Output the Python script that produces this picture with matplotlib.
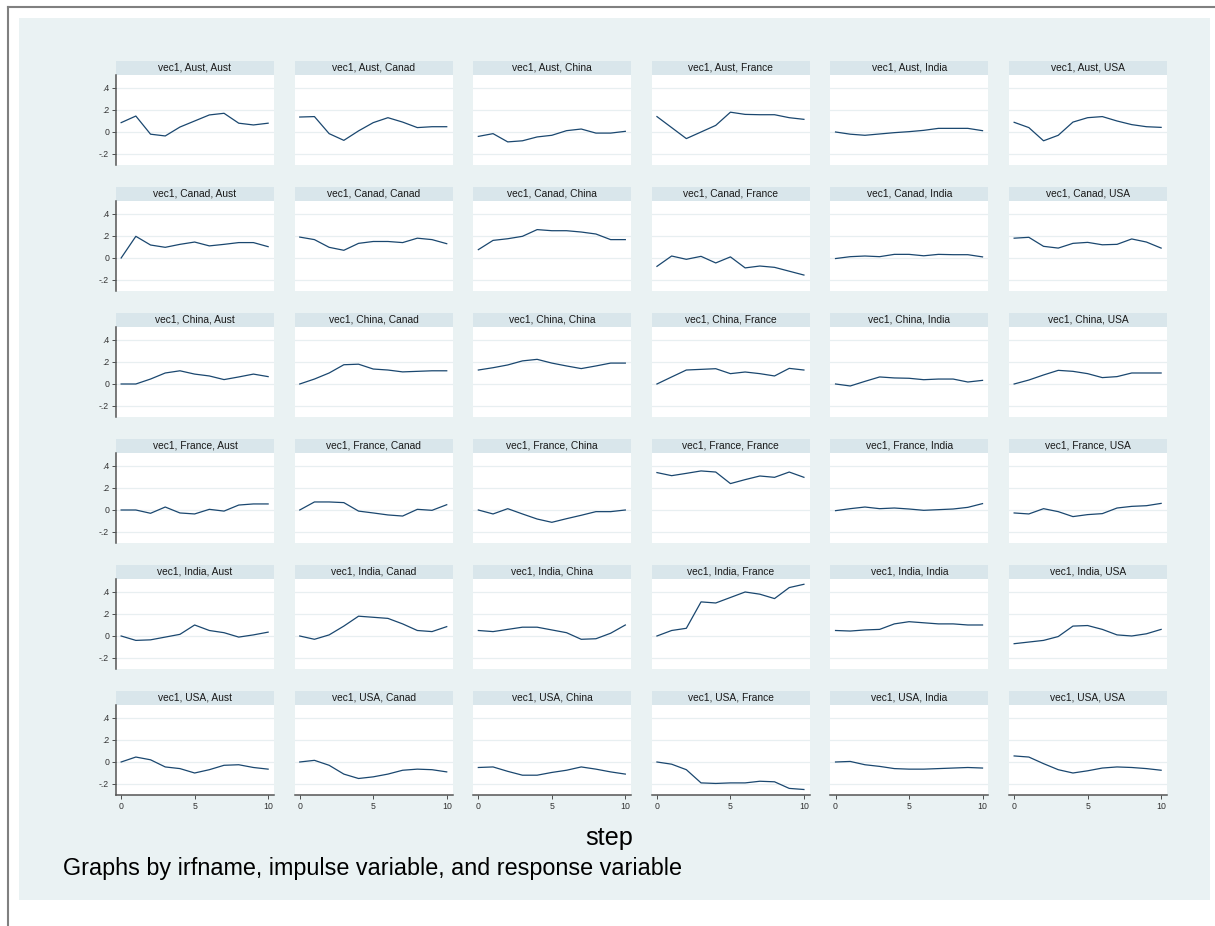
import numpy as np
import matplotlib.pyplot as plt
from matplotlib.patches import Rectangle
from matplotlib.lines import Line2D

plt.rcParams['font.family'] = ['Liberation Sans', 'DejaVu Sans']

countries = ['Aust', 'Canad', 'China', 'France', 'India', 'USA']
steps = np.arange(11)
yticks = [-0.2, 0, 0.2, 0.4]
yticklabels = ['-.2', '0', '.2', '.4']
xticks = [0, 5, 10]

# impulse = Aust, responses in order of countries
irf_aust = [
    [0.085, 0.145, -0.02, -0.036, 0.045, 0.10, 0.155, 0.17, 0.08, 0.064, 0.08],
    [0.136, 0.14, -0.015, -0.076, 0.01, 0.085, 0.13, 0.09, 0.04, 0.048, 0.048],
    [-0.04, -0.015, -0.09, -0.08, -0.045, -0.03, 0.012, 0.027, -0.01, -0.01, 0.006],
    [0.14, 0.04, -0.06, 0.0, 0.06, 0.18, 0.16, 0.157, 0.157, 0.13, 0.115],
    [0.0, -0.02, -0.03, -0.018, -0.006, 0.003, 0.015, 0.033, 0.033, 0.033, 0.012],
    [0.088, 0.04, -0.08, -0.03, 0.09, 0.13, 0.14, 0.10, 0.067, 0.048, 0.042],
]
irf_canad = [
    [0.0, 0.197, 0.118, 0.097, 0.124, 0.145, 0.11, 0.124, 0.14, 0.14, 0.103],
    [0.19, 0.167, 0.097, 0.07, 0.133, 0.15, 0.15, 0.14, 0.18, 0.167, 0.13],
    [0.076, 0.16, 0.175, 0.197, 0.258, 0.248, 0.248, 0.236, 0.218, 0.167, 0.167],
    [-0.076, 0.018, -0.012, 0.015, -0.045, 0.01, -0.09, -0.073, -0.085, -0.12, -0.155],
    [-0.005, 0.012, 0.018, 0.012, 0.033, 0.033, 0.02, 0.033, 0.03, 0.03, 0.01],
    [0.18, 0.188, 0.106, 0.09, 0.133, 0.142, 0.12, 0.124, 0.173, 0.145, 0.09],
]
irf_china = [
    [0.0, 0.0, 0.045, 0.10, 0.12, 0.09, 0.073, 0.04, 0.064, 0.09, 0.067],
    [0.0, 0.045, 0.10, 0.175, 0.18, 0.136, 0.127, 0.11, 0.115, 0.12, 0.12],
    [0.127, 0.148, 0.173, 0.21, 0.224, 0.19, 0.164, 0.14, 0.164, 0.19, 0.19],
    [0.0, 0.064, 0.127, 0.133, 0.139, 0.094, 0.109, 0.094, 0.073, 0.142, 0.127],
    [0.0, -0.018, 0.024, 0.064, 0.055, 0.052, 0.039, 0.045, 0.045, 0.018, 0.033],
    [0.0, 0.036, 0.082, 0.124, 0.115, 0.094, 0.058, 0.067, 0.10, 0.10, 0.10],
]
irf_france = [
    [0.0, 0.0, -0.03, 0.027, -0.027, -0.036, 0.006, -0.01, 0.045, 0.055, 0.055],
    [0.0, 0.073, 0.073, 0.067, -0.01, -0.027, -0.045, -0.055, 0.006, -0.003, 0.048],
    [0.0, -0.036, 0.012, -0.036, -0.082, -0.112, -0.079, -0.048, -0.015, -0.015, 0.0],
    [0.34, 0.312, 0.333, 0.355, 0.345, 0.24, 0.276, 0.309, 0.297, 0.345, 0.297],
    [-0.006, 0.012, 0.027, 0.012, 0.018, 0.009, -0.003, 0.003, 0.009, 0.024, 0.058],
    [-0.027, -0.036, 0.012, -0.015, -0.06, -0.042, -0.033, 0.018, 0.033, 0.039, 0.06],
]
irf_india = [
    [0.0, -0.04, -0.035, -0.01, 0.015, 0.10, 0.05, 0.03, -0.01, 0.01, 0.035],
    [0.0, -0.03, 0.01, 0.09, 0.18, 0.17, 0.16, 0.11, 0.05, 0.04, 0.085],
    [0.05, 0.04, 0.06, 0.08, 0.08, 0.055, 0.03, -0.03, -0.025, 0.025, 0.10],
    [0.0, 0.05, 0.07, 0.31, 0.30, 0.35, 0.40, 0.38, 0.34, 0.44, 0.47],
    [0.05, 0.045, 0.055, 0.06, 0.11, 0.13, 0.12, 0.11, 0.11, 0.10, 0.10],
    [-0.07, -0.055, -0.04, -0.005, 0.09, 0.095, 0.06, 0.01, 0.0, 0.02, 0.06],
]
irf_usa = [
    [0.0, 0.045, 0.02, -0.045, -0.06, -0.10, -0.07, -0.03, -0.025, -0.05, -0.065],
    [0.0, 0.015, -0.03, -0.11, -0.15, -0.135, -0.11, -0.075, -0.065, -0.07, -0.09],
    [-0.05, -0.045, -0.085, -0.12, -0.12, -0.095, -0.075, -0.045, -0.065, -0.09, -0.11],
    [0.0, -0.02, -0.07, -0.19, -0.195, -0.19, -0.19, -0.175, -0.18, -0.24, -0.25],
    [0.0, 0.005, -0.025, -0.04, -0.06, -0.065, -0.065, -0.06, -0.055, -0.05, -0.055],
    [0.055, 0.045, -0.015, -0.07, -0.10, -0.08, -0.055, -0.045, -0.05, -0.06, -0.075],
]
irf = [irf_aust, irf_canad, irf_china, irf_france, irf_india, irf_usa]

W, H = 1215, 926
fig = plt.figure(figsize=(W / 100, H / 100), dpi=100)
fig.patch.set_facecolor('white')


def px(x, y, w, h):
    # pixel box (top-left origin) -> figure fraction
    return [x / W, 1 - (y + h) / H, w / W, h / H]


fig.patches.append(Rectangle((19 / W, 1 - 900 / H), (1210 - 19) / W, (900 - 18) / H,
                             transform=fig.transFigure, facecolor='#eaf2f3',
                             edgecolor='none', zorder=-5))
fig.add_artist(Line2D([8 / W, 8 / W], [0, 1 - 7 / H], color='#808080', lw=1.5, zorder=-4))
fig.add_artist(Line2D([8 / W, 1], [1 - 7 / H, 1 - 7 / H], color='#808080', lw=1.5, zorder=-4))

for i, imp in enumerate(countries):
    for j, resp in enumerate(countries):
        ax = fig.add_axes(px(116 + 178.6 * j, 75 + 126 * i, 158, 90))
        ax.set_facecolor('white')
        ax.plot(steps, irf[i][j], color='#1a476f', lw=0.9)
        ax.set_xlim(-0.35, 10.4)
        ax.set_ylim(-0.3, 0.518)
        ax.set_yticks(yticks)
        ax.set_yticklabels(yticklabels)
        ax.set_xticks(xticks)
        ax.grid(axis='y', color='#e8eff1', lw=0.9)
        ax.set_axisbelow(True)
        for s in ax.spines.values():
            s.set_visible(False)
        ax.tick_params(labelsize=6.3, length=3, width=0.6, colors='#333333', pad=2)
        # strip title
        ax.add_patch(Rectangle((0, 1), 1, 14 / 90, transform=ax.transAxes,
                               facecolor='#d9e6eb', edgecolor='none', clip_on=False))
        ax.text(0.5, 1 + 7 / 90, 'vec1, %s, %s' % (imp, resp), transform=ax.transAxes,
                ha='center', va='center', fontsize=7.4, color='#1a1a1a')
        if j == 0:
            ax.spines['left'].set_visible(True)
            ax.spines['left'].set_color('#555555')
            ax.spines['left'].set_linewidth(1.1)
        else:
            ax.tick_params(axis='y', left=False, labelleft=False)
        if i == 5:
            ax.spines['bottom'].set_visible(True)
            ax.spines['bottom'].set_color('#555555')
            ax.spines['bottom'].set_linewidth(1.1)
        else:
            ax.tick_params(axis='x', bottom=False, labelbottom=False)

fig.text(609 / W, 1 - 838 / H, 'step', ha='center', va='center', fontsize=18.2)
fig.text(63 / W, 1 - 868 / H, 'Graphs by irfname, impulse variable, and response variable',
         ha='left', va='center', fontsize=16.8)

fig.savefig('out.png', dpi=100, facecolor='white')
